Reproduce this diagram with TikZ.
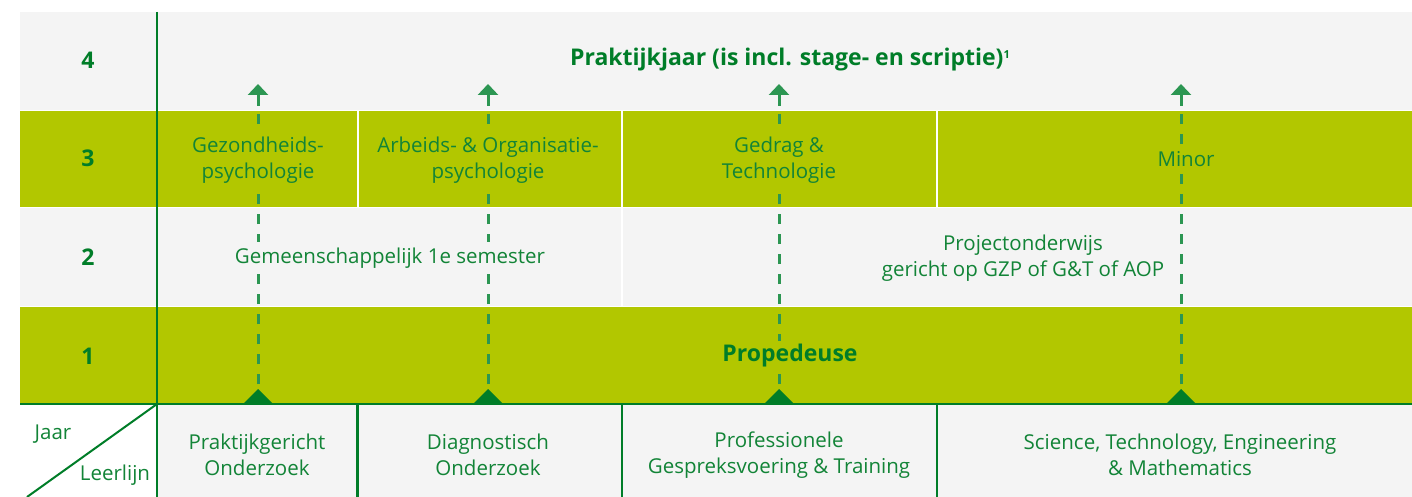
\documentclass[tikz,border=0pt]{standalone}
\usepackage{fontspec}
\setmainfont{Open Sans}
\usetikzlibrary{arrows.meta}
\definecolor{lime}{RGB}{178,199,0}
\definecolor{cellgray}{RGB}{244,244,244}
\definecolor{dkgreen}{RGB}{0,125,40}
\definecolor{txtgreen}{RGB}{18,132,55}
\definecolor{arrgreen}{RGB}{44,150,82}
\tikzset{
  lbl/.style={text=txtgreen, align=center, font=\fontsize{20.5}{26}\selectfont, inner xsep=3pt, inner ysep=6pt},
  bld/.style={text=dkgreen, align=center, font=\fontsize{23}{26}\selectfont\bfseries, inner sep=2pt},
  dashline/.style={draw=arrgreen, line width=3pt, dash pattern=on 10pt off 10pt},
  headline/.style={draw=arrgreen, line width=3pt, -{Triangle[width=20pt,length=11pt]}},
  gridline/.style={draw=dkgreen, line width=2.5pt},
  sep/.style={draw=white, line width=2pt}
}
\begin{document}
\begin{tikzpicture}[x=1pt,y=-1pt]
\useasboundingbox (0,0) rectangle (1412,497);
\fill[white] (0,0) rectangle (1412,497);
% rows
\fill[cellgray] (20,12) rectangle (1412,110);
\fill[lime] (20,111) rectangle (1412,206.5);
\fill[cellgray] (20,207.5) rectangle (1412,306);
\fill[lime] (20,307) rectangle (1412,404);
\fill[cellgray] (158,405) rectangle (1412,497);
% white separators
\draw[sep] (357.5,111) -- (357.5,206.5);
\draw[sep] (621.5,111) -- (621.5,306);
\draw[sep] (936.5,111) -- (936.5,206.5);
% grid lines
\draw[gridline] (20,404) -- (1412,404);
\draw[gridline] (157,12) -- (157,497);
\draw[gridline] (357.5,404) -- (357.5,497);
\draw[gridline] (622,404) -- (622,497);
\draw[gridline] (937,404) -- (937,497);
\coordinate (dA) at (157,404);
\coordinate (dB) at (27,497);
\draw[draw=dkgreen, line width=2pt] (dA) -- (dB);
% arrows
\foreach \i/\x in {1/258,2/488,3/779,4/1181}{
  \coordinate (s\i) at (\x,384);
  \coordinate (m\i) at (\x,106);
  \coordinate (e\i) at (\x,84);
  \draw[dashline] (s\i) -- (m\i);
  \draw[headline] (m\i) -- (e\i);
  \fill[dkgreen] (\x-15,404) -- (\x,389) -- (\x+15,404) -- cycle;
}
% year labels
\node[bld] (y4) at (88,60) {4};
\node[bld] (y3) at (88,158) {3};
\node[bld] (y2) at (88,257) {2};
\node[bld] (y1) at (88,356) {1};
% row 4
\node[bld] (pj) at (790,60) {Praktijkjaar (is incl. stage- en scriptie)\raisebox{7pt}{\fontsize{11}{11}\selectfont\bfseries 1}};
% row 3
\node[lbl, fill=lime] (gz) at (258,160.5) {Gezondheids-\\psychologie};
\node[lbl, fill=lime] (ao) at (488,160.5) {Arbeids- \& Organisatie-\\psychologie};
\node[lbl, fill=lime] (gt) at (779,160.5) {Gedrag \&\\Technologie};
\node[lbl, fill=lime] (mi) at (1186,159) {Minor};
% row 2
\node[lbl, fill=cellgray] (gs) at (390,258) {Gemeenschappelijk 1e semester};
\node[lbl] (po) at (1023,258) {Projectonderwijs\\gericht op GZP of G\&T of AOP};
% row 1
\node[bld, fill=lime, inner sep=4pt] (pr) at (790,356) {Propedeuse};
% bottom row
\node[lbl] (jr) at (53,434) {Jaar};
\node[lbl] (ll) at (115,475) {Leerlijn};
\node[lbl] (l1) at (257,455) {Praktijkgericht\\Onderzoek};
\node[lbl] (l2) at (488,455) {Diagnostisch\\Onderzoek};
\node[lbl] (l3) at (779,455) {Professionele\\Gespreksvoering \& Training};
\node[lbl] (l4) at (1180,455) {Science, Technology, Engineering\\\& Mathematics};
\end{tikzpicture}
\end{document}
